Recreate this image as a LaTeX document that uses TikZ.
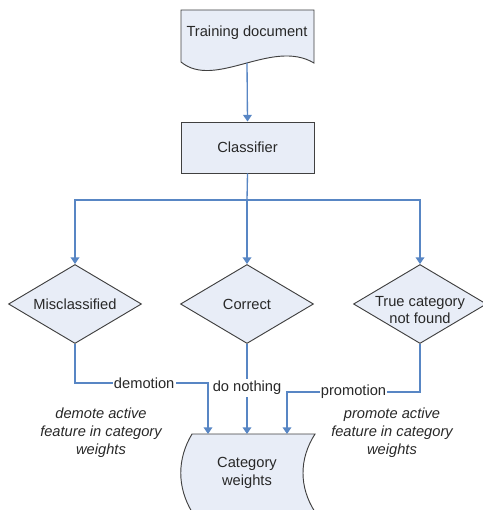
\documentclass[tikz,border=0pt]{standalone}
\usepackage{fontspec}
\setmainfont{Liberation Sans}
\usetikzlibrary{shapes.geometric,arrows.meta}
\definecolor{fillc}{RGB}{232,237,247}
\definecolor{linec}{RGB}{88,134,196}
\definecolor{txt}{RGB}{40,40,40}
\begin{document}
\begin{tikzpicture}[x=0.75pt,y=-0.75pt,
  shapeline/.style={draw=black!75, line width=0.7pt, fill=fillc},
  lbl/.style={font=\fontsize{11}{13}\selectfont, text=txt, inner sep=0pt, align=center},
  conn/.style={draw=linec, line width=1pt},
  arr/.style={conn, -{Triangle[width=6.5pt,length=5pt]}},
  edgelbl/.style={lbl, fill=white, inner xsep=1pt, inner ysep=1.5pt},
  note/.style={font=\fontsize{11}{13.5}\selectfont\itshape, text=txt, inner sep=0pt, align=center},
  dia/.style={shapeline, diamond, minimum width=99.75pt, minimum height=59.25pt, inner sep=0pt},
  boxnode/.style={shapeline, rectangle, minimum width=99.75pt, minimum height=38.25pt, inner sep=0pt, lbl}
]
\useasboundingbox (0,0) rectangle (482,510);

% Training document shape
\path[shapeline] (181,10) -- (314,10) -- (314,63)
   .. controls (272,38) and (215,90) .. (181,62) -- cycle;
\node[lbl] (doc) at (247,33) {Training document};
\coordinate (docb) at (247,63);

% Classifier
\node[boxnode] (cls) at (247.5,147.5) {Classifier};

% Diamonds
\node[dia] (d1) at (75,304) {};
\node[lbl] (t1) at (d1) {Misclassified};
\node[dia] (d2) at (247,304) {};
\node[lbl] (t2) at (d2) {Correct};
\node[dia] (d3) at (420,304) {};
\node[lbl] (t3) at (420,310) {True category\\not found};

% Category weights shape
\begin{scope}
\clip (0,0) rectangle (482,510);
\path[shapeline] (192,434) -- (315,434)
   .. controls (299,459) and (299,487) .. (315,512)
   -- (192,512)
   .. controls (177,487) and (177,459) .. (192,434) -- cycle;
\end{scope}
\node[lbl] (cw) at (247,473) {Category\\weights};
\coordinate (cwa) at (208,434);
\coordinate (cwb) at (247,434);
\coordinate (cwc) at (287,434);
\coordinate (ja) at (208,383);
\coordinate (jc) at (287,392);

% connectors
\draw[arr] (docb) -- (cls.north);
\coordinate (br) at (247,200);
\draw[conn] (cls.south) -- (br);
\draw[arr] (br) -| (d1.north);
\draw[arr] (br) -| (d3.north);
\draw[arr] (br) -- (d2.north);

\draw[arr] (d1.south) |- node[edgelbl, pos=0.76] (ld) {demotion} (ja) -- (cwa);
\draw[arr] (d2.south) -- node[edgelbl, pos=0.49] (ln) {do nothing} (cwb);
\draw[arr] (d3.south) |- node[edgelbl, pos=0.75] (lp) {promotion} (jc) -- (cwc);

% notes
\node[note] (n1) at (101,433) {demote active\\feature in category\\weights};
\node[note] (n2) at (392,433) {promote active\\feature in category\\weights};
\end{tikzpicture}
\end{document}
